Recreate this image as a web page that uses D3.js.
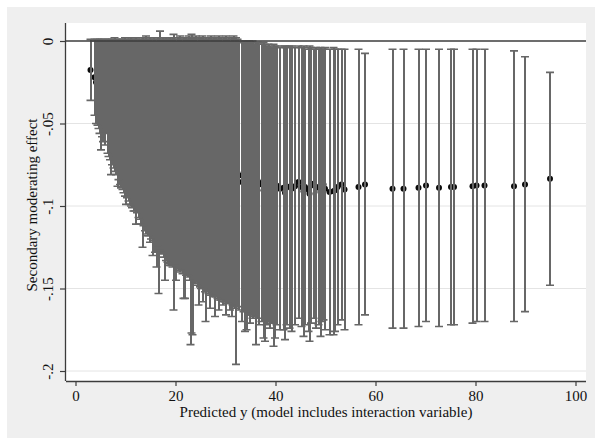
<!DOCTYPE html>
<html>
<head>
<meta charset="utf-8">
<script src="https://cdn.jsdelivr.net/npm/d3@7"></script>
<style>
  body { margin: 0; background: #ffffff; }
  svg text { font-family: "Liberation Serif", "Times New Roman", serif; fill: #111; }
</style>
</head>
<body>
<div class="chart"></div>
<script>
// Data: predicted y, estimate, lower and upper CI
const predY = [
  3.0, 3.8, 4.1, 4.4, 4.6, 4.8, 5.1, 5.3, 5.5, 5.8,
  6.1, 6.4, 6.6, 6.9, 7.1, 7.3, 7.6, 7.8, 8.1, 8.4,
  8.6, 8.9, 9.1, 9.4, 9.6, 9.9, 10.1, 10.3, 10.6, 10.8,
  11.1, 11.3, 11.6, 11.8, 12.1, 12.3, 12.6, 12.8, 13.1, 13.4,
  13.6, 13.9, 14.1, 14.4, 14.6, 14.9, 15.1, 15.4, 15.6, 15.9,
  16.2, 16.4, 16.6, 16.9, 17.1, 17.4, 17.6, 17.9, 18.1, 18.4,
  18.6, 18.9, 19.1, 19.4, 19.6, 19.9, 20.1, 20.4, 20.6, 20.9,
  21.1, 21.4, 21.6, 21.9, 22.1, 22.4, 22.6, 22.9, 23.0, 23.2,
  23.4, 23.7, 23.9, 24.1, 24.4, 24.6, 24.9, 25.1, 25.4, 25.6,
  25.9, 26.0, 26.4, 26.6, 26.9, 27.1, 27.4, 27.6, 27.9, 28.1,
  28.4, 28.6, 28.9, 29.1, 29.4, 29.6, 29.9, 30.1, 30.4, 30.6,
  30.9, 31.2, 31.4, 31.6, 31.9, 32.1, 32.4, 32.7, 33.3, 33.6,
  33.9, 34.2, 34.4, 34.7, 34.9, 35.2, 35.4, 35.7, 36.1, 36.4,
  36.7, 37.2, 37.6, 37.9, 38.2, 38.6, 38.9, 39.3, 39.6, 39.9,
  40.2, 40.9, 41.6, 41.9, 42.2, 42.8, 43.2, 43.9, 44.6, 45.2,
  45.6, 45.9, 46.6, 46.8, 47.1, 47.6, 48.1, 48.6, 49.0, 49.2,
  49.6, 49.9, 50.8, 51.6, 51.9, 52.4, 53.2, 53.8, 56.6, 57.9,
  63.4, 65.6, 68.6, 70.1, 72.7, 75.1, 75.7, 79.4, 80.2, 81.8,
  87.7, 89.9, 94.9
];
const effect = [
  -0.0176, -0.022, -0.025, -0.025, -0.0265, -0.0275, -0.033, -0.0285, -0.0305, -0.031,
  -0.028, -0.0335, -0.035, -0.0355, -0.0405, -0.037, -0.0385, -0.0385, -0.0405, -0.0435,
  -0.042, -0.043, -0.0445, -0.0445, -0.046, -0.046, -0.049, -0.0475, -0.048, -0.0495,
  -0.049, -0.050, -0.0515, -0.051, -0.0545, -0.052, -0.053, -0.054, -0.055, -0.0615,
  -0.056, -0.057, -0.057, -0.0585, -0.059, -0.060, -0.0595, -0.065, -0.0595, -0.0635,
  -0.0685, -0.061, -0.076, -0.060, -0.0635, -0.0635, -0.0655, -0.072, -0.0655, -0.0665,
  -0.068, -0.0665, -0.0675, -0.0675, -0.0795, -0.0675, -0.0725, -0.068, -0.069, -0.0685,
  -0.069, -0.0705, -0.077, -0.0775, -0.070, -0.071, -0.0695, -0.0725, -0.091, -0.0865,
  -0.0885, -0.072, -0.073, -0.0715, -0.074, -0.079, -0.074, -0.074, -0.0775, -0.0745,
  -0.076, -0.084, -0.0755, -0.0755, -0.0805, -0.0755, -0.0765, -0.0765, -0.0835, -0.0765,
  -0.0775, -0.080, -0.078, -0.0775, -0.080, -0.078, -0.0785, -0.0815, -0.079, -0.0785,
  -0.0815, -0.0825, -0.0795, -0.079, -0.0805, -0.097, -0.080, -0.0815, -0.0855, -0.082,
  -0.0885, -0.0875, -0.083, -0.083, -0.086, -0.0835, -0.084, -0.0845, -0.0925, -0.0845,
  -0.087, -0.086, -0.0905, -0.092, -0.0875, -0.086, -0.0885, -0.0875, -0.0935, -0.0915,
  -0.0875, -0.0895, -0.089, -0.092, -0.088, -0.0885, -0.0895, -0.088, -0.0855, -0.0885,
  -0.091, -0.0885, -0.090, -0.0925, -0.0875, -0.0865, -0.089, -0.0885, -0.0915, -0.0875,
  -0.087, -0.0895, -0.0915, -0.091, -0.0905, -0.0885, -0.087, -0.090, -0.0885, -0.087,
  -0.0895, -0.0895, -0.089, -0.0875, -0.089, -0.0885, -0.0885, -0.088, -0.0875, -0.0875,
  -0.088, -0.087, -0.0835
];
const ciLow = [
  -0.036, -0.045, -0.050, -0.051, -0.053, -0.056, -0.066, -0.058, -0.061, -0.063,
  -0.056, -0.068, -0.070, -0.072, -0.081, -0.075, -0.077, -0.079, -0.081, -0.088,
  -0.084, -0.087, -0.089, -0.090, -0.092, -0.094, -0.099, -0.095, -0.097, -0.099,
  -0.100, -0.101, -0.103, -0.103, -0.111, -0.104, -0.107, -0.108, -0.111, -0.125,
  -0.112, -0.115, -0.117, -0.118, -0.118, -0.122, -0.120, -0.130, -0.121, -0.128,
  -0.137, -0.124, -0.153, -0.126, -0.128, -0.129, -0.131, -0.145, -0.133, -0.134,
  -0.136, -0.135, -0.136, -0.137, -0.163, -0.136, -0.145, -0.138, -0.139, -0.140,
  -0.139, -0.141, -0.156, -0.156, -0.142, -0.143, -0.142, -0.145, -0.184, -0.177,
  -0.178, -0.146, -0.147, -0.146, -0.148, -0.160, -0.149, -0.150, -0.158, -0.150,
  -0.152, -0.170, -0.152, -0.153, -0.162, -0.154, -0.154, -0.155, -0.167, -0.155,
  -0.156, -0.163, -0.157, -0.157, -0.160, -0.158, -0.158, -0.166, -0.159, -0.159,
  -0.163, -0.167, -0.160, -0.161, -0.162, -0.196, -0.161, -0.163, -0.170, -0.164,
  -0.176, -0.175, -0.164, -0.166, -0.171, -0.166, -0.168, -0.167, -0.184, -0.168,
  -0.172, -0.170, -0.180, -0.182, -0.172, -0.170, -0.174, -0.171, -0.185, -0.180,
  -0.172, -0.175, -0.175, -0.181, -0.172, -0.174, -0.176, -0.172, -0.168, -0.173,
  -0.179, -0.172, -0.176, -0.182, -0.171, -0.168, -0.174, -0.172, -0.179, -0.170,
  -0.169, -0.175, -0.178, -0.178, -0.176, -0.172, -0.169, -0.175, -0.172, -0.166,
  -0.174, -0.174, -0.173, -0.170, -0.173, -0.172, -0.172, -0.171, -0.170, -0.170,
  -0.170, -0.164, -0.148
];
const ciHigh = [
  0.001, 0.001, 0.000, 0.001, 0.000, 0.001, 0.000, 0.001, 0.000, 0.001,
  0.000, 0.001, 0.000, 0.001, 0.000, 0.001, 0.000, 0.002, 0.000, 0.001,
  0.000, 0.001, 0.000, 0.001, 0.000, 0.002, 0.001, 0.000, 0.001, 0.000,
  0.002, 0.001, 0.000, 0.001, 0.002, 0.000, 0.001, 0.000, 0.001, 0.002,
  0.000, 0.001, 0.003, 0.001, 0.000, 0.002, 0.001, 0.000, 0.002, 0.001,
  0.000, 0.002, 0.001, 0.006, 0.001, 0.002, 0.000, 0.001, 0.002, 0.001,
  0.000, 0.002, 0.001, 0.002, 0.004, 0.001, 0.000, 0.002, 0.001, 0.003,
  0.001, 0.000, 0.002, 0.001, 0.002, 0.001, 0.003, 0.000, 0.002, 0.004,
  0.001, 0.002, 0.001, 0.003, 0.000, 0.002, 0.001, 0.002, 0.003, 0.001,
  0.000, 0.002, 0.001, 0.002, 0.001, 0.003, 0.001, 0.002, 0.000, 0.002,
  0.001, 0.003, 0.001, 0.002, 0.000, 0.002, 0.001, 0.003, 0.001, 0.002,
  0.000, 0.002, 0.001, 0.003, 0.001, 0.002, 0.001, 0.000, -0.001, 0.000,
  -0.001, 0.000, -0.002, 0.000, -0.001, -0.001, 0.000, -0.002, -0.001, -0.001,
  -0.002, -0.002, -0.001, -0.002, -0.003, -0.002, -0.003, -0.004, -0.002, -0.003,
  -0.003, -0.004, -0.003, -0.003, -0.004, -0.003, -0.003, -0.004, -0.003, -0.004,
  -0.003, -0.005, -0.004, -0.003, -0.004, -0.005, -0.004, -0.005, -0.004, -0.005,
  -0.005, -0.004, -0.005, -0.004, -0.005, -0.005, -0.005, -0.005, -0.005, -0.0075,
  -0.005, -0.005, -0.005, -0.005, -0.005, -0.005, -0.005, -0.005, -0.005, -0.005,
  -0.006, -0.0095, -0.019
];
const xTicks = [0, 20, 40, 60, 80, 100];
const yTicks = [0, -0.05, -0.1, -0.15, -0.2];
const xTitle = "Predicted y (model includes interaction variable)";
const yTitle = "Secondary moderating effect";

// Set Dimensions
const width = 595, height = 438;
const plotLeft = 66, plotRight = 586, plotTop = 23, plotBottom = 381;

const points = predY.map((d, i) => ({x: d, b: effect[i], lo: ciLow[i], hi: ciHigh[i]}));

const svg = d3.select(".chart")
    .append("svg")
    .attr("width", width)
    .attr("height", height);

// graph region + plot region
svg.append("rect")
    .attr("x", 7).attr("y", 7)
    .attr("width", width - 7).attr("height", height - 7)
    .attr("fill", "#efefef");
svg.append("rect")
    .attr("x", plotLeft).attr("y", plotTop)
    .attr("width", plotRight - plotLeft).attr("height", plotBottom - plotTop)
    .attr("fill", "#ffffff");

const x = d3.scaleLinear().domain([0, 100]).range([75.5, 575.5]);
const y = d3.scaleLinear().domain([0, -0.2]).range([41, 371]);

// grid lines
svg.append("g")
    .selectAll("line")
    .data(yTicks.filter(d => d !== 0))
    .join("line")
    .attr("x1", plotLeft).attr("x2", plotRight)
    .attr("y1", d => y(d)).attr("y2", d => y(d))
    .attr("stroke", "#e4e4e4")
    .attr("stroke-width", 1);

// estimates (drawn first, the intervals cover them)
svg.append("g")
    .selectAll("circle")
    .data(points)
    .join("circle")
    .attr("cx", d => x(d.x))
    .attr("cy", d => y(d.b))
    .attr("r", 3)
    .attr("fill", "#0a0a0a");

// confidence intervals
const barColor = "#676767";
const caps = svg.append("g")
    .attr("stroke", barColor)
    .attr("fill", "none");
// stems, crisp so that neighbours merge into one mass
caps.append("g")
    .attr("stroke-width", 2)
    .attr("shape-rendering", "crispEdges")
    .selectAll("line")
    .data(points)
    .join("line")
    .attr("x1", d => x(d.x)).attr("x2", d => x(d.x))
    .attr("y1", d => y(d.lo)).attr("y2", d => y(d.hi));
caps.append("g")
    .attr("stroke-width", 1.6)
    .selectAll("path")
    .data(points)
    .join("path")
    .attr("d", d => {
        const cx = x(d.x), y0 = y(d.lo), y1 = y(d.hi);
        return "M" + (cx - 4) + "," + y0 + "H" + (cx + 4)
            + "M" + (cx - 4) + "," + y1 + "H" + (cx + 4);
    });

// zero line
svg.append("line")
    .attr("x1", plotLeft).attr("x2", plotRight)
    .attr("y1", y(0)).attr("y2", y(0))
    .attr("stroke", "#3c3c3c")
    .attr("stroke-width", 1.3);

const fmt = d => d === 0 ? "0" : String(d).replace("0.", ".");

// bottom axis
const xAxis = svg.append("g")
    .attr("transform", "translate(0," + plotBottom + ")")
    .call(d3.axisBottom(x).tickValues(xTicks).tickSize(5).tickSizeOuter(0).tickPadding(4));
xAxis.select(".domain")
    .attr("d", "M" + plotLeft + ",0.5H" + plotRight)
    .attr("stroke", "#3c3c3c").attr("stroke-width", 1.3);
xAxis.selectAll(".tick line").attr("stroke", "#3c3c3c").attr("stroke-width", 1.2);
xAxis.selectAll(".tick text")
    .attr("font-size", 15)
    .attr("font-family", "Liberation Serif, serif")
    .attr("fill", "#111");

// left axis
const yAxis = svg.append("g")
    .attr("transform", "translate(" + plotLeft + ",0)")
    .call(d3.axisLeft(y).tickValues(yTicks).tickFormat(fmt).tickSize(6).tickSizeOuter(0));
yAxis.select(".domain")
    .attr("d", "M-0.5," + plotTop + "V" + plotBottom)
    .attr("stroke", "#3c3c3c").attr("stroke-width", 1.3);
yAxis.selectAll(".tick line").attr("stroke", "#3c3c3c").attr("stroke-width", 1.2);
yAxis.selectAll(".tick text")
    .attr("transform", "rotate(-90)")
    .attr("x", 0).attr("y", -13).attr("dy", 0)
    .attr("text-anchor", "middle")
    .attr("font-size", 15)
    .attr("font-family", "Liberation Serif, serif")
    .attr("fill", "#111");

// axis titles
svg.append("text")
    .attr("x", (plotLeft + plotRight) / 2)
    .attr("y", 417)
    .attr("text-anchor", "middle")
    .attr("font-size", 15)
    .text(xTitle);
svg.append("text")
    .attr("transform", "translate(37," + 205 + ") rotate(-90)")
    .attr("text-anchor", "middle")
    .attr("font-size", 15)
    .text(yTitle);
</script>
</body>
</html>
